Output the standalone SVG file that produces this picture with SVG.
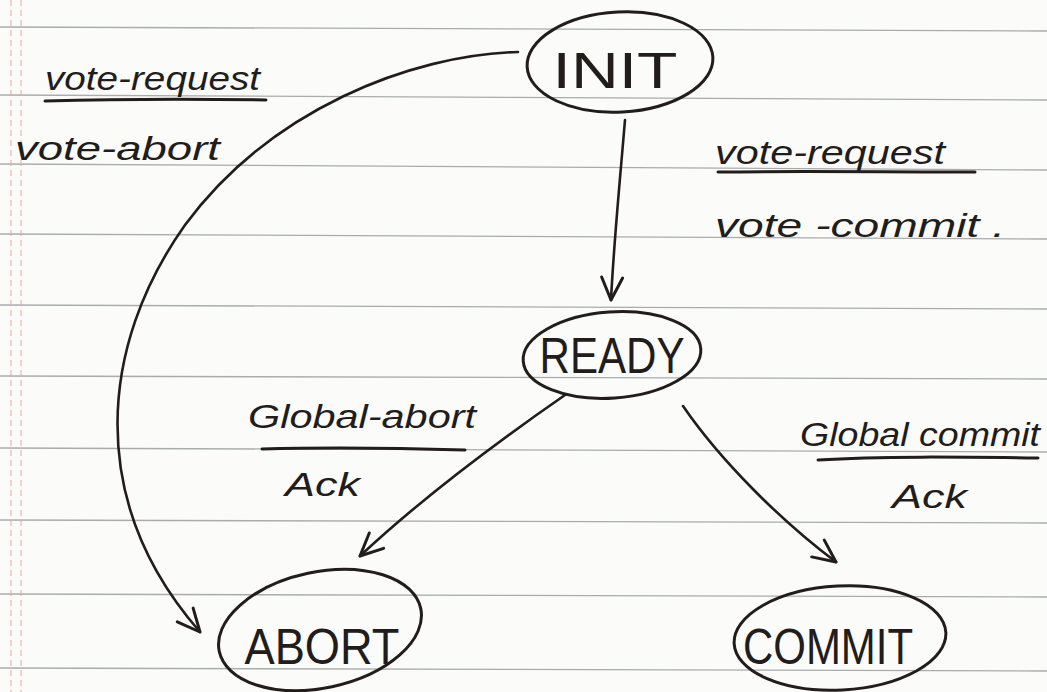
<svg xmlns="http://www.w3.org/2000/svg" width="1047" height="692" viewBox="0 0 1047 692">
  <style>
    .paper { fill: #fbfbfa; }
    .rule { stroke: #a9acad; stroke-width: 1.3; fill: none; }
    .margin { stroke: #e9a79f; stroke-width: 1; stroke-dasharray: 6 4; fill: none; }
    .state { fill: none; stroke: #221c1a; stroke-width: 3; }
    .state-label { font-family: "Liberation Sans", "DejaVu Sans", sans-serif; font-size: 50px; fill: #221c1a; text-anchor: middle; }
    .edge { fill: none; stroke: #221c1a; stroke-width: 2.6; stroke-linecap: round; }
    .edge-label { font-family: "Liberation Sans", "DejaVu Sans", sans-serif; font-size: 34px; font-style: italic; fill: #221c1a; }
    .bar { stroke: #221c1a; stroke-width: 3; stroke-linecap: round; fill: none; }
  </style>
  <defs>
    <marker id="open-arrow-lg" viewBox="0 0 20 20" refX="18" refY="10" markerWidth="30" markerHeight="30" orient="auto" markerUnits="userSpaceOnUse">
      <path d="M3,3 L18,10 L3,17" fill="none" stroke="#221c1a" stroke-width="2" stroke-linecap="round" stroke-linejoin="round"/>
    </marker>
  </defs>

  <!-- ruled notebook page -->
  <rect class="paper" x="0" y="0" width="1047" height="692"/>
  <g id="ruling">
    <path class="rule" d="M0,27 L1047,31"/>
    <path class="rule" d="M0,95 L1047,100"/>
    <path class="rule" d="M0,164 L1047,170"/>
    <path class="rule" d="M0,234 L1047,239"/>
    <path class="rule" d="M0,305 L1047,309"/>
    <path class="rule" d="M0,376 L1047,379"/>
    <path class="rule" d="M0,448 L1047,452"/>
    <path class="rule" d="M0,520 L1047,523"/>
    <path class="rule" d="M0,594 L1047,597"/>
    <path class="rule" d="M0,668 L1047,671"/>
    <path class="margin" d="M11,0 L11,692"/>
    <path class="margin" d="M21,0 L21,692"/>
  </g>

  <!-- transitions -->
  <g id="connectors">
    <path class="edge" marker-end="url(#open-arrow-lg)" d="M518,52 C410,55 270,110 185,225 C100,345 85,500 200,632"/>
    <path class="edge" marker-end="url(#open-arrow-lg)" d="M625,120 C620,180 614,240 611,300"/>
    <path class="edge" marker-end="url(#open-arrow-lg)" d="M565,395 C500,440 420,500 360,556"/>
    <path class="edge" marker-end="url(#open-arrow-lg)" d="M683,406 C720,460 780,520 836,562"/>
  </g>

  <!-- transition labels -->
  <g id="label-init-abort">
    <text class="edge-label" x="45" y="90" textLength="215" lengthAdjust="spacingAndGlyphs">vote-request</text>
    <path class="bar" d="M45,101 C120,99 200,99 266,100"/>
    <text class="edge-label" x="15" y="160" textLength="205" lengthAdjust="spacingAndGlyphs">vote-abort</text>
  </g>
  <g id="label-init-ready">
    <text class="edge-label" x="715" y="164" textLength="230" lengthAdjust="spacingAndGlyphs">vote-request</text>
    <path class="bar" d="M718,172 C800,171 880,172 975,172"/>
    <text class="edge-label" x="715" y="237" textLength="290" lengthAdjust="spacingAndGlyphs">vote  -commit .</text>
  </g>
  <g id="label-ready-abort">
    <text class="edge-label" x="248" y="428" textLength="228" lengthAdjust="spacingAndGlyphs">Global-abort</text>
    <path class="bar" d="M262,449 C330,447 400,448 465,450"/>
    <text class="edge-label" x="285" y="496" textLength="75" lengthAdjust="spacingAndGlyphs">Ack</text>
  </g>
  <g id="label-ready-commit">
    <text class="edge-label" x="800" y="446" textLength="240" lengthAdjust="spacingAndGlyphs">Global commit</text>
    <path class="bar" d="M818,460 C880,456 960,457 1038,458"/>
    <text class="edge-label" x="892" y="508" textLength="75" lengthAdjust="spacingAndGlyphs">Ack</text>
  </g>

  <!-- states -->
  <g id="state-init">
    <ellipse class="state" cx="620" cy="62" rx="93" ry="50" transform="rotate(-3 620 62)"/>
    <text class="state-label" x="615" y="88" textLength="125" lengthAdjust="spacingAndGlyphs">INIT</text>
  </g>
  <g id="state-ready">
    <ellipse class="state" cx="612" cy="355" rx="89" ry="43" transform="rotate(-4 612 355)"/>
    <text class="state-label" x="612" y="373" textLength="145" lengthAdjust="spacingAndGlyphs">READY</text>
  </g>
  <g id="state-abort">
    <ellipse class="state" cx="320" cy="630" rx="103" ry="58" transform="rotate(-12 320 630)"/>
    <text class="state-label" x="322" y="664" textLength="155" lengthAdjust="spacingAndGlyphs">ABORT</text>
  </g>
  <g id="state-commit">
    <ellipse class="state" cx="840" cy="638" rx="106" ry="52" transform="rotate(-3 840 638)"/>
    <text class="state-label" x="828" y="664" textLength="170" lengthAdjust="spacingAndGlyphs">COMMIT</text>
  </g>
</svg>
